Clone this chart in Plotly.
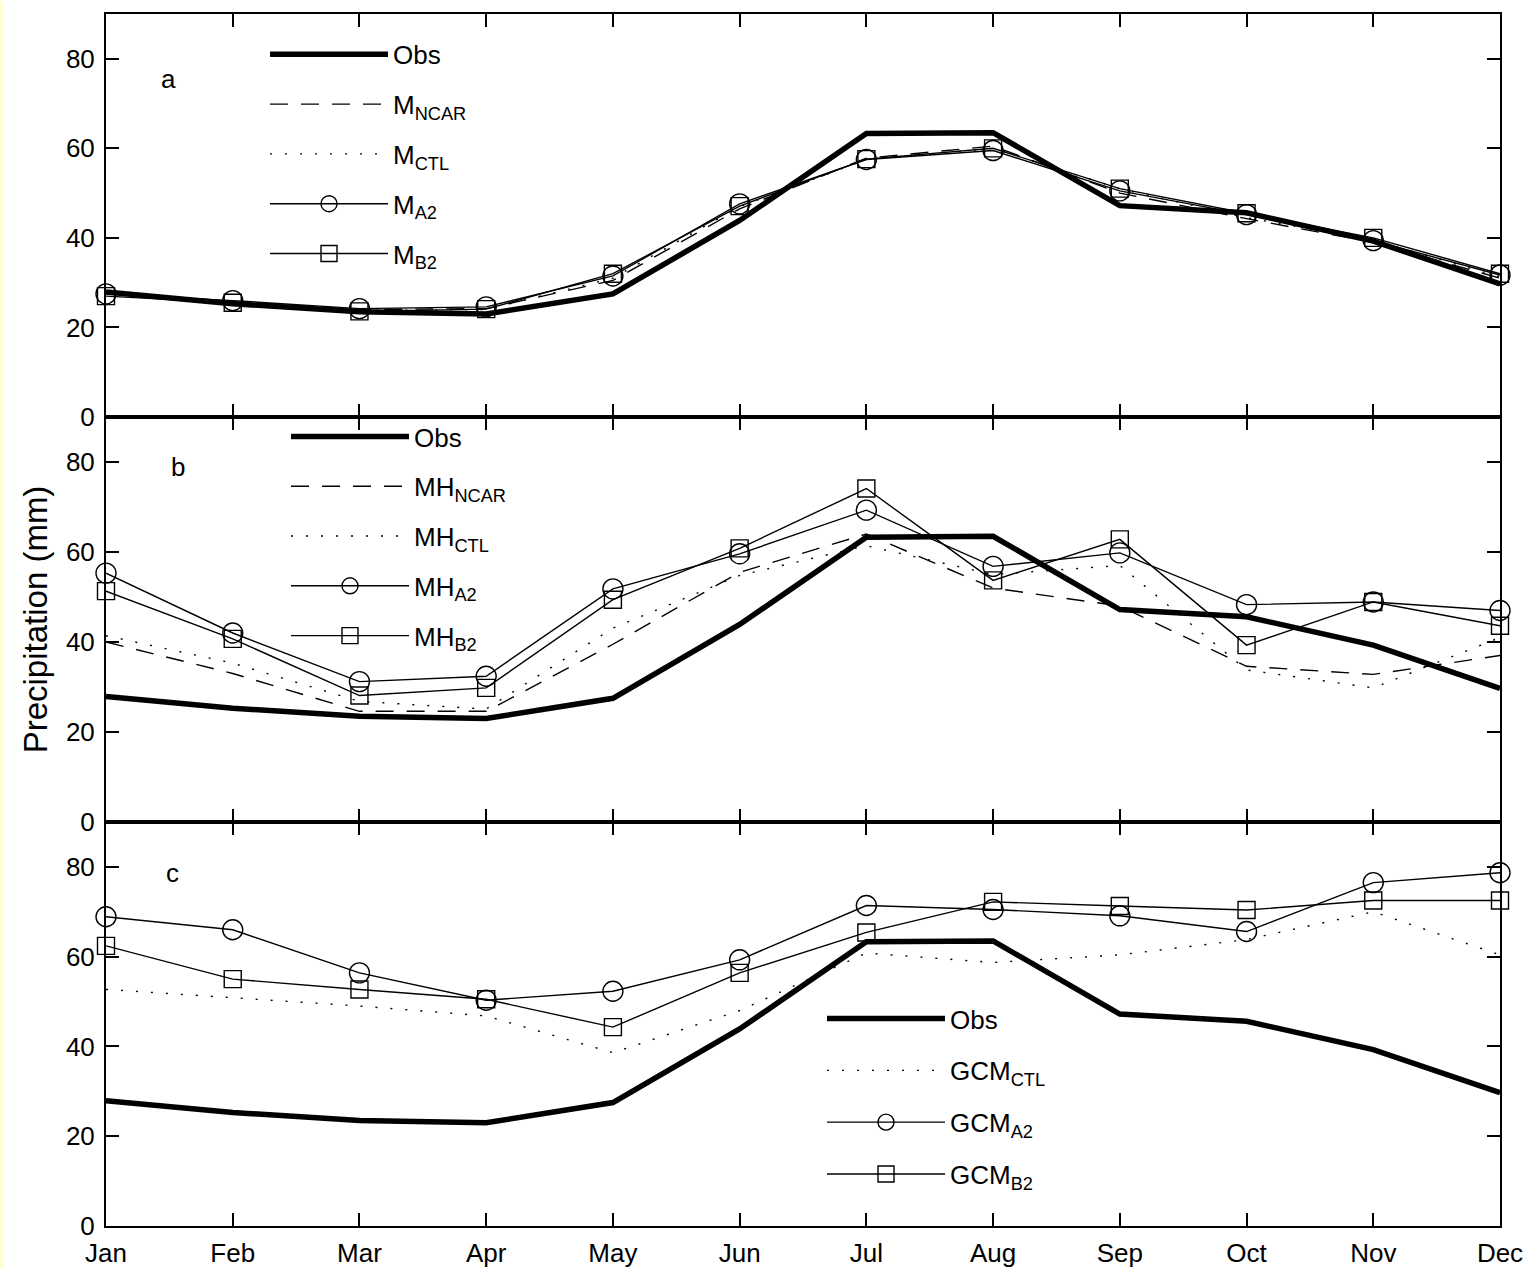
import plotly.graph_objects as go

months = ["Jan", "Feb", "Mar", "Apr", "May", "Jun", "Jul", "Aug", "Sep", "Oct", "Nov", "Dec"]

obs = [27.9, 25.3, 23.5, 23.0, 27.5, 43.9, 63.3, 63.5, 47.2, 45.6, 39.3, 29.7]

# panel a
m_ncar = [28.0, 25.8, 24.0, 24.2, 30.5, 46.5, 57.8, 60.5, 50.0, 44.3, 39.0, 31.0]
m_ctl = [27.8, 25.8, 23.8, 24.0, 31.0, 47.0, 57.5, 60.0, 51.0, 44.5, 39.5, 31.3]
m_a2 = [27.5, 26.0, 24.2, 24.6, 31.5, 47.6, 57.5, 59.5, 50.5, 45.2, 39.4, 31.7]
m_b2 = [27.0, 25.5, 23.6, 24.1, 32.0, 47.1, 57.6, 60.0, 51.0, 45.5, 40.0, 32.0]

# panel b
mh_ncar = [40.0, 33.0, 24.6, 24.6, 39.5, 55.5, 64.0, 52.0, 48.0, 34.6, 32.8, 37.0]
mh_ctl = [41.4, 35.3, 26.8, 25.1, 43.1, 54.8, 61.4, 55.0, 57.0, 33.8, 29.8, 41.0]
mh_a2 = [55.3, 42.0, 31.2, 32.4, 51.8, 59.6, 69.3, 56.8, 59.8, 48.3, 48.9, 47.0]
mh_b2 = [51.3, 40.7, 28.1, 29.8, 49.4, 60.8, 74.1, 53.7, 62.8, 39.3, 48.9, 43.6]

# panel c
gcm_ctl = [52.7, 50.8, 49.0, 46.8, 38.6, 48.0, 60.8, 58.7, 60.4, 63.8, 70.0, 60.4]
gcm_a2 = [68.9, 66.0, 56.4, 50.3, 52.3, 59.3, 71.4, 70.5, 69.1, 65.6, 76.5, 78.7]
gcm_b2 = [62.4, 55.0, 52.7, 50.5, 44.3, 56.4, 65.4, 72.2, 71.3, 70.4, 72.5, 72.5]

FONT = "Liberation Sans, Arial, Helvetica, sans-serif"
TXT = 26
LEG = 26


def lab(base, sub=None):
    if sub is None:
        return base
    return f"{base}<sub>{sub}</sub>"


fig = go.Figure()

panels = [
    ("y", "x", "legend", "M", [("NCAR", m_ncar, "dash"), ("CTL", m_ctl, "dot"), ("A2", m_a2, "circle"), ("B2", m_b2, "square")]),
    ("y2", "x2", "legend2", "MH", [("NCAR", mh_ncar, "dash"), ("CTL", mh_ctl, "dot"), ("A2", mh_a2, "circle"), ("B2", mh_b2, "square")]),
    ("y3", "x3", "legend3", "GCM", [("CTL", gcm_ctl, "dot"), ("A2", gcm_a2, "circle"), ("B2", gcm_b2, "square")]),
]

for yref, xref, leg, base, series in panels:
    for i, (sub, vals, style) in enumerate(series):
        line = dict(color="black", width=1.4)
        mode = "lines"
        marker = None
        if style == "dash":
            line["dash"] = "18px,13px"
        elif style == "dot":
            line["dash"] = "2px,13px"
        else:
            mode = "lines+markers"
            marker = dict(symbol=style + "-open", size=20 if style == "circle" else 17,
                          color="black", line=dict(width=1.4, color="black"))
        fig.add_trace(go.Scatter(
            x=months, y=vals, mode=mode, line=line, marker=marker,
            name=lab(base, sub), legend=leg, legendgroup=f"{leg}{i+2}", legendrank=i + 2,
            xaxis=xref, yaxis=yref, cliponaxis=False, showlegend=True))
    fig.add_trace(go.Scatter(
        x=months, y=obs, mode="lines", line=dict(color="black", width=5.5),
        name="Obs", legend=leg, legendgroup=f"{leg}1", legendrank=1,
        xaxis=xref, yaxis=yref, cliponaxis=False))

# geometry measured on the reference (pixels)
H = 1218.0
W = 1394.0
dom_c = [0, 406 / H]
dom_b = [406 / H, 813 / H]
dom_a = [813 / H, 1]

axis_common = dict(showline=True, linewidth=2, linecolor="black", mirror="ticks",
                   ticks="inside", ticklen=13, tickwidth=1.5, tickcolor="black",
                   showgrid=False, zeroline=False,
                   tickfont=dict(family=FONT, size=TXT, color="black"))

xcommon = dict(axis_common, type="category", range=[0, 11], categoryorder="array",
               categoryarray=months)
ycommon = dict(axis_common, range=[0, 90], tickvals=[0, 20, 40, 60, 80], ticklabelstandoff=4)

legcommon = dict(bgcolor="rgba(0,0,0,0)", borderwidth=0, traceorder="grouped",
                 tracegroupgap=13, font=dict(family=FONT, size=LEG, color="black"),
                 xanchor="left", yanchor="top", itemwidth=118)


def px_x(p):
    return (p - 106) / W


def px_y(p):
    return (1231 - p) / H


fig.update_layout(
    width=1539, height=1280,
    margin=dict(l=106, r=39, t=13, b=38, pad=0),
    paper_bgcolor="white", plot_bgcolor="white",
    font=dict(family=FONT, size=TXT, color="black"),
    showlegend=True,
    xaxis=dict(xcommon, domain=[0, 1], anchor="y", showticklabels=False),
    yaxis=dict(ycommon, domain=dom_a, anchor="x"),
    xaxis2=dict(xcommon, domain=[0, 1], anchor="y2", showticklabels=False, matches="x"),
    yaxis2=dict(ycommon, domain=dom_b, anchor="x2",
                title=dict(text="Precipitation (mm)", font=dict(family=FONT, size=33, color="black"),
                           standoff=8)),
    xaxis3=dict(xcommon, domain=[0, 1], anchor="y3", matches="x", ticklabelstandoff=3),
    yaxis3=dict(ycommon, domain=dom_c, anchor="x3"),
    legend=dict(legcommon, x=px_x(265), y=px_y(30)),
    legend2=dict(legcommon, x=px_x(286), y=px_y(414)),
    legend3=dict(legcommon, x=px_x(822), y=px_y(999), tracegroupgap=15),
    annotations=[
        dict(text="a", xref="x domain", yref="y domain", x=(168 - 106) / W, y=(418 - 78) / 405,
             xanchor="center", yanchor="middle",
             showarrow=False, font=dict(family=FONT, size=TXT, color="black")),
        dict(text="b", xref="x2 domain", yref="y2 domain", x=(178 - 106) / W, y=(825 - 468) / 407,
             xanchor="center", yanchor="middle",
             showarrow=False, font=dict(family=FONT, size=TXT, color="black")),
        dict(text="c", xref="x3 domain", yref="y3 domain", x=(172 - 106) / W, y=(1231 - 876) / 406,
             xanchor="center", yanchor="middle",
             showarrow=False, font=dict(family=FONT, size=TXT, color="black")),
    ],
    shapes=[
        dict(type="rect", xref="paper", yref="paper", x0=-106 / W, x1=-103 / W,
             y0=-43 / H, y1=1 + 13 / H, fillcolor="#FFFFD0", line=dict(width=0), layer="below"),
    ],
)

fig.write_html(
    "out.html",
    config={"displayModeBar": False},
    post_script="document.body.style.margin='0px';document.body.style.padding='0px';"
                "document.body.style.overflow='hidden';",
)
